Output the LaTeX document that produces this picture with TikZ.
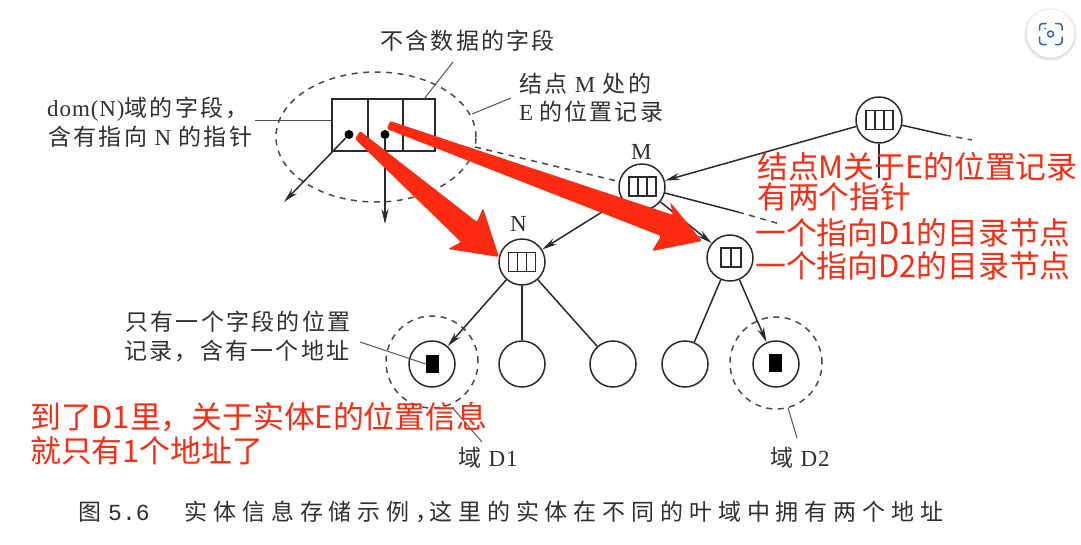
\documentclass[tikz,border=0pt]{standalone}
\usepackage{fontspec}
\usetikzlibrary{arrows.meta,shapes.geometric}
\setmainfont{Liberation Serif}
\newfontfamily\cjkp[LetterSpace=10]{Noto Sans CJK SC}
\newfontfamily\cjkc[LetterSpace=25.5]{Noto Sans CJK SC}
\newfontfamily\cjkr{Noto Sans CJK SC}
\newfontfamily\latp[LetterSpace=4]{Liberation Serif}
\newfontfamily\monp{Liberation Mono}
\definecolor{ink}{HTML}{2A2A2A}
\definecolor{txt}{HTML}{303030}
\definecolor{redm}{HTML}{FB2A10}
\definecolor{lens}{HTML}{2F62B8}
\tikzset{
  tree/.style={circle,draw=ink,line width=1.5pt,minimum size=46pt,inner sep=0pt,fill=white},
  link/.style={draw=ink,line width=1.5pt},
  linkarrow/.style={link,-{Stealth[length=15pt,width=7pt]}},
  thin leader/.style={draw=ink!80,line width=1pt},
  dash line/.style={draw=ink!85,line width=1.5pt,dash pattern=on 6pt off 5.5pt},
  region/.style={draw=ink!85,line width=1.5pt,dash pattern=on 6pt off 5.5pt,fill=none},
  cell/.style={rectangle,draw=ink,line width=1.6pt,inner sep=0pt,minimum height=52pt},
  ptr/.style={circle,fill=black,inner sep=0pt,minimum size=9pt},
  addr/.style={rectangle,fill=black,inner sep=0pt,minimum width=13pt,minimum height=18pt},
  ptext/.style={anchor=base west,inner sep=0pt,text=txt,font=\fontsize{23}{23}\selectfont},
  rtext/.style={anchor=base west,inner sep=0pt,text=redm,font=\fontsize{30.8}{31}\selectfont\cjkr},
  redhead/.style={fill=redm,draw=none}
}
\newcommand{\triplecell}[2]{%
  \draw[ink,line width=1.5pt] (#1-13.5,#2-9.5) rectangle (#1+13.5,#2+9.5);
  \draw[ink,line width=1.5pt] (#1-4.5,#2-9.5) -- (#1-4.5,#2+9.5) (#1+4.5,#2-9.5) -- (#1+4.5,#2+9.5);}
\begin{document}
\begin{tikzpicture}[x=1pt,y=-1pt]
\useasboundingbox (0,0) rectangle (1081,544);
\fill[white] (0,0) rectangle (1081,544);
% lens button
\foreach \r/\o in {27/.03,26/.04,25/.05}{\fill[black,opacity=\o] (1050.5,34.5) circle (\r pt);}
\node[circle,fill=white,inner sep=0pt,minimum size=48pt] (lensbtn) at (1050.5,33.5) {};
\draw[lens,line width=1.5pt,line cap=round,rounded corners=3pt]
  (1039.5,30) -- (1039.5,23.5) -- (1046,23.5) (1055.5,23.5) -- (1062,23.5) -- (1062,30)
  (1062,37) -- (1062,44.5) -- (1055.5,44.5) (1046,44.5) -- (1039.5,44.5) -- (1039.5,37);
\draw[lens,line width=1.4pt] (1050.5,34) circle (3pt);
\fill[lens] (1045,28.5) circle (1pt);
% coordinates of free ends
\coordinate (topR1) at (945,135);
\coordinate (topR2) at (972,140);
\coordinate (topD) at (879,178);
\coordinate (mR1) at (738,212);
\coordinate (mR2) at (780,224);
\coordinate (ptrA) at (284,202);
\coordinate (ptrB) at (385,224);
\coordinate (lblA) at (255,120);
\coordinate (lblB) at (453,62);
\coordinate (lblC) at (511,98);
\coordinate (lblD) at (360,342);
\coordinate (lblE) at (482,442);
\coordinate (lblF) at (797,438);
\coordinate (ellR) at (475,147);
\coordinate (ellC) at (472,114);
\coordinate (recTop) at (424,99);
% regions
\node[ellipse,region,minimum width=200pt,minimum height=130pt,inner sep=0pt] (ell) at (376,137) {};
\node[circle,region,minimum size=92pt,inner sep=0pt] (regD1) at (432,362) {};
\node[circle,region,minimum size=92pt,inner sep=0pt] (regD2) at (776,363) {};
% record
\node[cell,minimum width=36pt] (rec1) at (350,125) {};
\node[cell,minimum width=35pt] (rec2) at (385.5,125) {};
\node[cell,minimum width=32pt] (rec3) at (419,125) {};
\node[ptr] (dot1) at (349,134.5) {};
\node[ptr] (dot2) at (385,134.5) {};
\draw[linkarrow] (dot1) -- (ptrA);
\draw[linkarrow] (dot2) -- (ptrB);
% tree nodes
\node[tree] (T) at (879,120) {};
\node[tree] (M) at (642,187) {};
\node[tree] (N) at (522,262) {};
\node[tree] (P) at (730,258) {};
\node[tree] (L1) at (432,364) {};
\node[tree] (L2) at (522,364) {};
\node[tree] (L3) at (613,364) {};
\node[tree] (L4) at (685,364) {};
\node[tree] (L5) at (776,364) {};
% connectors
\draw[linkarrow] (T) -- (M);
\draw[link] (T) -- (topR1);
\draw[dash line] (topR1) -- (topR2);
\draw[link] (T) -- (topD);
\draw[link] (M) -- (mR1);
\draw[dash line] (mR1) -- (mR2);
\draw[dash line] (ellR) -- (M);
\draw[linkarrow] (M) -- (N);
\draw[linkarrow] (M) -- (P);
\draw[linkarrow] (N) -- (L1);
\draw[link] (N) -- (L2);
\draw[link] (N) -- (L3);
\draw[link] (P) -- (L4);
\draw[linkarrow] (P) -- (L5);
% cells in the circles
\triplecell{879.5}{120}
\triplecell{642.5}{186.5}
\triplecell{522}{262}
\draw[ink,line width=1.5pt] (721,248) rectangle (741,267) (731,248) -- (731,267);
\node[addr] (a1) at (432.5,364) {};
\node[addr] (a2) at (775.5,363) {};
% leaders
\draw[thin leader] (lblA) -- (rec1.west |- lblA);
\draw[thin leader] (lblB) -- (recTop);
\draw[thin leader] (lblC) -- (ellC);
\draw[thin leader] (lblD) -- (a1.west);
\draw[thin leader] (regD1.south) ++(21,-.5) -- (lblE);
\draw[thin leader] (regD2.south) ++(12,-2) -- (lblF);
% printed labels
\node[ptext] (t1) at (380,49) {\cjkp 不含数据的字段};
\node[ptext] (t2) at (519,92) {\cjkp 结点 {\latp M} 处的};
\node[ptext] (t3) at (519,120) {{\latp E} \cjkp 的位置记录};
\node[ptext] (t4) at (47,116) {\latp dom(N)\cjkp 域的字段，};
\node[ptext] (t5) at (48,145) {\cjkp 含有指向 {\latp N} 的指针};
\node[ptext] (t6) at (631,159) {M};
\node[ptext] (t7) at (510,231) {N};
\node[ptext] (t8) at (125,330) {\cjkp 只有一个字段的位置};
\node[ptext] (t9) at (124,359) {\cjkp 记录，含有一个地址};
\node[ptext] (t10) at (458,466) {\cjkp 域 {\latp D1}};
\node[ptext] (t11) at (770,466) {\cjkp 域 {\latp D2}};
\node[ptext] (cap) at (78,520) {\cjkc 图\hspace{7pt}{\monp 5.6}\hspace{35pt}实体信息存储示例，\hspace{-9pt}这里的实体在不同的叶域中拥有两个地址};
% red arrows
\fill[redhead,rounded corners=2pt] (355,139) -- (360,131) -- (477,222) -- (483,208) -- (499,257) -- (448,249) -- (461,242) -- cycle;
\fill[redhead,rounded corners=2pt] (387,129) -- (390,121) -- (673,215) -- (670,202) -- (702,241) -- (652,251) -- (661,236) -- cycle;
% red text
\node[rtext] (r1) at (757,178) {结点M关于E的位置记录};
\node[rtext] (r2) at (757,208) {有两个指针};
\node[rtext] (r3) at (755,244) {一个指向D1的目录节点};
\node[rtext] (r4) at (755,277) {一个指向D2的目录节点};
\node[rtext] (r5) at (30,428) {到了D1里，关于实体E的位置信息};
\node[rtext] (r6) at (30,462) {就只有1个地址了};
\end{tikzpicture}
\end{document}
